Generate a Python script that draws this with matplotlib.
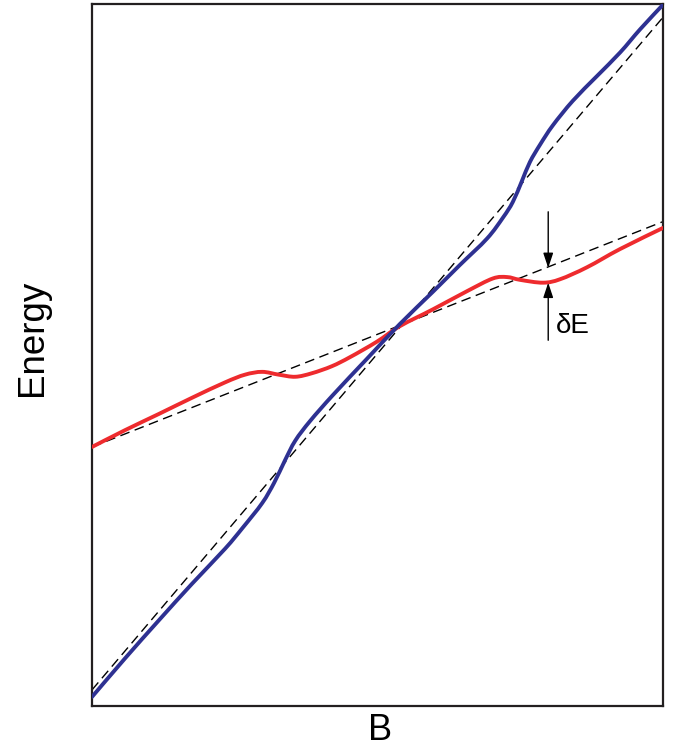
import matplotlib
matplotlib.use("Agg")
import matplotlib.pyplot as plt
from matplotlib.path import Path
from matplotlib.patches import PathPatch

# upper (blue) level
blue_b = [0.000, 0.058, 0.117, 0.175, 0.233, 0.264, 0.298, 0.319, 0.338, 0.356,
          0.382, 0.422, 0.482, 0.539, 0.597, 0.644, 0.692, 0.720, 0.737, 0.753,
          0.767, 0.785, 0.807, 0.842, 0.884, 0.925, 0.960, 1.000]
blue_e = [0.013, 0.068, 0.122, 0.174, 0.224, 0.254, 0.289, 0.318, 0.350, 0.378,
          0.406, 0.443, 0.495, 0.544, 0.590, 0.628, 0.666, 0.696, 0.718, 0.748,
          0.775, 0.800, 0.827, 0.862, 0.897, 0.931, 0.964, 0.999]

# lower (red) level
red_b = [0.000, 0.058, 0.117, 0.175, 0.233, 0.268, 0.298, 0.327, 0.356, 0.385,
         0.420, 0.452, 0.499, 0.539, 0.597, 0.657, 0.702, 0.727, 0.750, 0.790,
         0.820, 0.867, 0.925, 1.000]
red_e = [0.369, 0.393, 0.416, 0.439, 0.461, 0.472, 0.476, 0.472, 0.469, 0.474,
         0.484, 0.497, 0.519, 0.541, 0.565, 0.591, 0.609, 0.611, 0.607, 0.603,
         0.608, 0.625, 0.651, 0.681]

# unperturbed levels (dashed)
steep_b = [0.0, 1.0]
steep_e = [0.023, 0.981]
shallow_b = [0.0, 1.0]
shallow_e = [0.369, 0.690]

# splitting marker
gap_b = 0.799
gap_top = [0.704, 0.624]
gap_bot = [0.521, 0.603]


def smooth(xs, ys):
    # catmull-rom through the read points, drawn as cubic bezier segments
    pts = list(zip(xs, ys))
    verts = [pts[0]]
    codes = [Path.MOVETO]
    for i in range(len(pts) - 1):
        p0 = pts[max(i - 1, 0)]
        p1 = pts[i]
        p2 = pts[i + 1]
        p3 = pts[min(i + 2, len(pts) - 1)]
        c1 = (p1[0] + (p2[0] - p0[0]) / 6, p1[1] + (p2[1] - p0[1]) / 6)
        c2 = (p2[0] - (p3[0] - p1[0]) / 6, p2[1] - (p3[1] - p1[1]) / 6)
        verts += [c1, c2, p2]
        codes += [Path.CURVE4] * 3
    return Path(verts, codes)


fig = plt.figure(figsize=(6.77, 7.53), dpi=100)
ax = fig.add_axes([0.1359, 0.0624, 0.8434, 0.9323])

ax.plot(steep_b, steep_e, color="black", lw=1.0, dashes=(7, 4), zorder=2)
ax.plot(shallow_b, shallow_e, color="black", lw=1.0, dashes=(7, 4), zorder=2)
ax.add_patch(PathPatch(smooth(red_b, red_e), fill=False, edgecolor="#ee2b2e",
                       lw=2.8, capstyle="round", joinstyle="round", zorder=3))
ax.add_patch(PathPatch(smooth(blue_b, blue_e), fill=False, edgecolor="#2e3192",
                       lw=2.8, capstyle="round", joinstyle="round", zorder=4))

arrow = dict(arrowstyle="-|>,head_length=0.9,head_width=0.3", color="black",
             lw=1.0, shrinkA=0, shrinkB=0)
ax.annotate("", xy=(gap_b, gap_top[1]), xytext=(gap_b, gap_top[0]),
            arrowprops=arrow)
ax.annotate("", xy=(gap_b, gap_bot[1]), xytext=(gap_b, gap_bot[0]),
            arrowprops=arrow)
ax.text(gap_b + 0.014, 0.5 * (gap_bot[0] + gap_bot[1]) - 0.02, "δE",
        fontsize=20, family=["Liberation Sans", "DejaVu Sans"],
        ha="left", va="center")

ax.set_xlim(0, 1)
ax.set_ylim(0, 1)
ax.set_xticks([])
ax.set_yticks([])
for s in ax.spines.values():
    s.set_linewidth(1.6)
    s.set_color("#231f20")

ax.set_xlabel("B", fontsize=26, family="Liberation Sans")
ax.set_ylabel("Energy", fontsize=26.5, family="Liberation Sans")
ax.xaxis.set_label_coords(0.504, -0.010)
ax.yaxis.set_label_coords(-0.074, 0.524)

fig.savefig("out.png", dpi=100)
